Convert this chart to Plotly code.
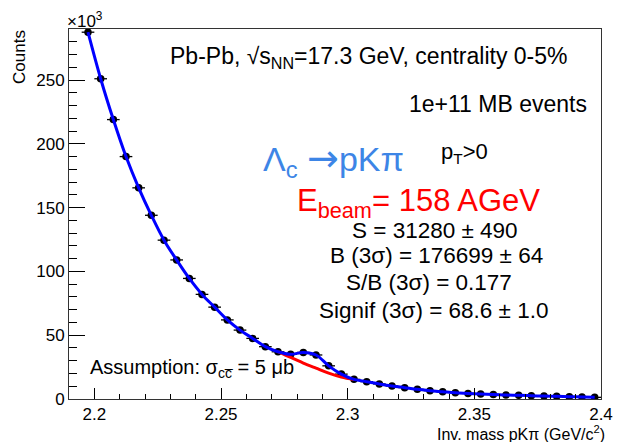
import plotly.graph_objects as go

# ---- data (counts in units of 10^3) ----
mass = [2.1975, 2.2025, 2.2075, 2.2125, 2.2175, 2.2225, 2.2275, 2.2325, 2.2375, 2.2425,
        2.2475, 2.2525, 2.2575, 2.2625, 2.2675, 2.2725, 2.2775, 2.2825, 2.2875, 2.2925,
        2.2975, 2.3025, 2.3075, 2.3125, 2.3175, 2.3225, 2.3275, 2.3325, 2.3375, 2.3425,
        2.3475, 2.3525, 2.3575, 2.3625, 2.3675, 2.3725, 2.3775, 2.3825, 2.3875, 2.3925,
        2.3975]
counts = [287.5, 251.0, 219.0, 190.0, 165.5, 144.0, 124.5, 109.0, 94.5, 82.0,
          72.0, 62.0, 54.0, 47.5, 41.0, 37.0, 35.0, 36.5, 34.5, 26.0,
          19.5, 15.4, 13.6, 11.8, 10.2, 8.9, 7.6, 6.5, 5.7, 4.9,
          4.4, 3.9, 3.6, 3.1, 2.9, 2.6, 2.3, 2.1, 1.8, 1.6,
          1.3]
bin_half_width = [0.0025] * len(mass)

bkg_mass = [2.2725, 2.2775, 2.2825, 2.2875, 2.2925, 2.2975, 2.3025]
bkg_counts = [37.2, 32.6, 28.2, 24.2, 20.3, 17.2, 15.3]

x_ticks = [2.2, 2.25, 2.3, 2.35, 2.4]
y_ticks = [0, 50, 100, 150, 200, 250]

FONT = "Liberation Sans, Arial, Helvetica, sans-serif"
W, H = 625, 442
L, R, T, B = 69, 611, 29, 399


def px(xp):
    return (xp - L) / (R - L)


def py(yp):
    return (B - yp) / (B - T)


fig = go.Figure()

fig.add_trace(go.Scatter(
    x=mass, y=counts, mode="markers",
    marker=dict(color="black", size=7.5),
    error_x=dict(type="data", array=bin_half_width, color="black", thickness=1.3, width=0),
    showlegend=False, hoverinfo="x+y"))

fig.add_trace(go.Scatter(
    x=bkg_mass, y=bkg_counts, mode="lines", line=dict(color="#ff0000", width=3, shape="spline"),
    showlegend=False))

fig.add_trace(go.Scatter(
    x=mass, y=counts, mode="lines", line=dict(color="#0000ff", width=3, shape="spline", smoothing=1.0),
    showlegend=False))

axis_common = dict(
    showgrid=False, zeroline=False, showline=True, linecolor="#333333", linewidth=1,
    mirror=True, ticks="inside", tickcolor="black", tickwidth=1,
    tickfont=dict(family=FONT, size=17, color="black"),
)

fig.update_xaxes(range=[2.19, 2.4], tickvals=x_ticks, ticktext=[str(v) for v in x_ticks],
                 ticklen=11,
                 minor=dict(ticks="inside", ticklen=5, dtick=0.01, tickcolor="black", tickwidth=1),
                 **axis_common)
fig.update_yaxes(range=[0, 290], tickvals=y_ticks, ticktext=[str(v) for v in y_ticks],
                 ticklen=16,
                 minor=dict(ticks="inside", ticklen=8, dtick=10, tickcolor="black", tickwidth=1),
                 **axis_common)

ann = []


def add(text, xp, yp, size, color="black", xanchor="center", yanchor="middle", angle=0):
    ann.append(dict(text=text, x=px(xp), y=py(yp), xref="paper", yref="paper",
                    xanchor=xanchor, yanchor=yanchor, showarrow=False, textangle=angle,
                    borderpad=0,
                    font=dict(family=FONT, size=size, color=color)))


ARROW = "<span style='font-family:DejaVu Sans;font-size:38px'>→</span>"

add("×10<sup>3</sup>", 66, 20, 17, xanchor="left")
add("Counts", 18, 57, 17, angle=-90)
add("Inv. mass pKπ (GeV/c<sup>2</sup>)", 616, 433, 16, xanchor="right")
add("Pb-Pb, √s<sub>NN</sub>=17.3 GeV, centrality 0-5%", 374, 58, 23)
add("1e+11 MB events", 598, 104, 23, xanchor="right")
add("Λ<sub>c</sub> " + ARROW + "pKπ", 266, 159, 34, color="#3d85e6", xanchor="left")
add("p<sub>T</sub>>0", 447, 153, 22, xanchor="left")
add("E<sub>beam</sub>= 158 AGeV", 300, 203, 31, color="#ff0000", xanchor="left")
add("S = 31280 ± 490", 442, 230, 22.5)
add("B (3σ) = 176699 ± 64", 443, 256, 22.5)
add("S/B (3σ) = 0.177", 436, 282, 22.5)
add("Signif (3σ) = 68.6 ± 1.0", 440, 310, 22.5)
add("Assumption: σ<sub>cc̅</sub> = 5 μb", 89, 368, 20, xanchor="left")

fig.update_layout(
    width=W, height=H,
    margin=dict(l=L, r=W - R, t=T, b=H - B, pad=0),
    paper_bgcolor="white", plot_bgcolor="white",
    annotations=ann, showlegend=False,
)

fig.write_html("out.html", config={"displayModeBar": False},
               post_script="document.body.style.margin='0';document.body.style.padding='0';")
